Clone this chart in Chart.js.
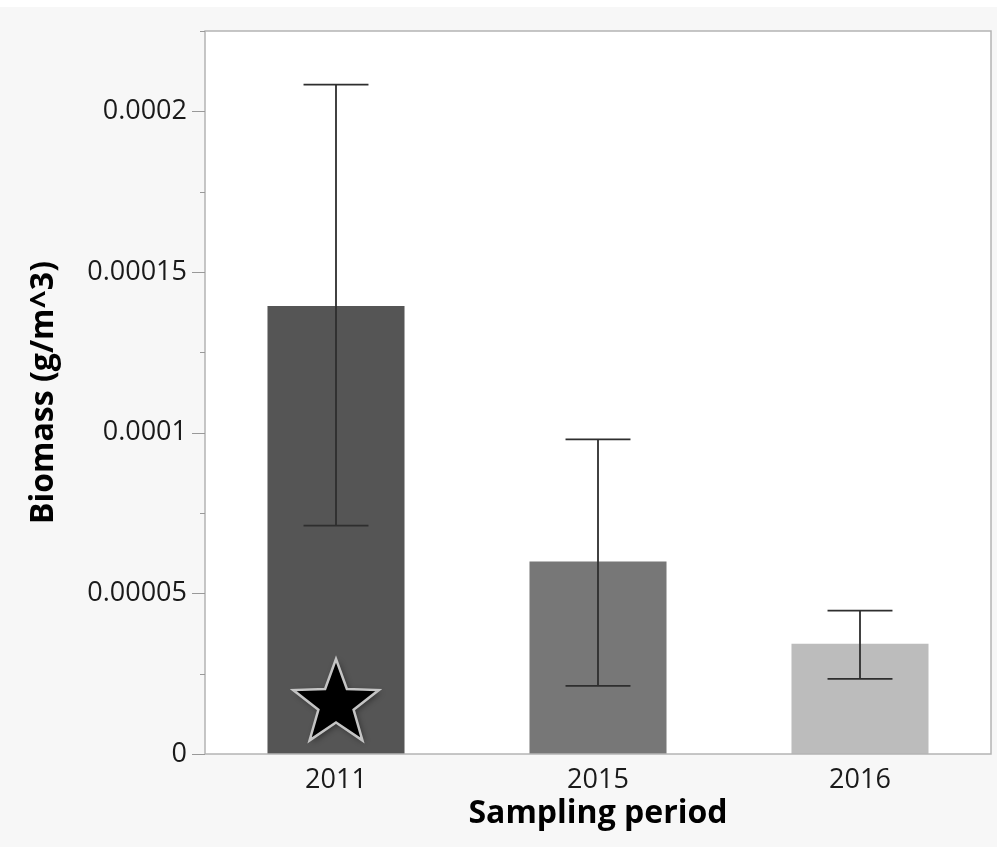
<!DOCTYPE html>
<html lang="en">
<head>
    <meta charset="UTF-8">
    <title>Biomass by sampling period</title>
    <script src="https://cdn.jsdelivr.net/npm/chart.js"></script>
    <style>
        body {
            margin: 0;
            padding: 0;
            background: #f7f7f7;
        }

        .chart-box {
            width: 997px;
            height: 847px;
        }
    </style>
</head>
<body>
    <div class="chart-box">
        <canvas id="myChart" width="997" height="847"></canvas>
    </div>

    <script>
        // dados
        var periods = ['2011', '2015', '2016'];
        var biomass = [0.0001394, 0.0000599, 0.0000343];
        var errUpper = [0.0002083, 0.0000979, 0.0000446];
        var errLower = [0.0000711, 0.0000212, 0.0000234];
        var barColors = ['#555555', '#777777', '#bcbcbc'];
        var starMark = [0.0000162, null, null];
        var yMajorValues = [0, 0.00005, 0.0001, 0.00015, 0.0002];
        var yMajorLabels = ['0', '0.00005', '0.0001', '0.00015', '0.0002'];

        var fontFamily = "'Open Sans', 'Noto Sans', sans-serif";

        function majorIndex(v) {
            for (var i = 0; i < yMajorValues.length; i++) {
                if (Math.abs(v - yMajorValues[i]) < 1e-10) return i;
            }
            return -1;
        }

        // sem padding extra dos rotulos, a area do grafico fica fixa
        function noPad(scale) {
            scale.paddingTop = 0;
            scale.paddingBottom = 0;
            scale.paddingLeft = 0;
            scale.paddingRight = 0;
        }

        // estrela de cinco pontas desenhada num canvas separado
        function makeStar() {
            var c = document.createElement('canvas');
            c.width = 110;
            c.height = 110;
            var g = c.getContext('2d');
            var R = 45, r = 18.5, cx = 55, cy = 57;
            g.beginPath();
            for (var i = 0; i < 10; i++) {
                var rad = i % 2 === 0 ? R : r;
                var a = -Math.PI / 2 + i * Math.PI / 5;
                var px = cx + rad * Math.cos(a);
                var py = cy + rad * Math.sin(a);
                if (i === 0) g.moveTo(px, py); else g.lineTo(px, py);
            }
            g.closePath();
            g.shadowColor = 'rgba(0,0,0,0.45)';
            g.shadowBlur = 6;
            g.shadowOffsetX = 2;
            g.shadowOffsetY = 2;
            g.fillStyle = '#000000';
            g.fill();
            g.shadowColor = 'transparent';
            g.lineWidth = 2.5;
            g.strokeStyle = '#c4c4c4';
            g.stroke();
            return c;
        }

        var frameAndTicks = {
            id: 'frameAndTicks',
            beforeDraw: function(chart) {
                var ctx = chart.ctx;
                var a = chart.chartArea;
                ctx.save();
                ctx.fillStyle = '#ffffff';
                ctx.fillRect(0, 0, chart.width, 7);
                ctx.fillStyle = '#f7f7f7';
                ctx.fillRect(0, 7, chart.width, chart.height - 7);
                ctx.fillStyle = '#ffffff';
                ctx.fillRect(a.left, a.top, a.right - a.left, a.bottom - a.top);
                ctx.restore();
            },
            afterDraw: function(chart) {
                var ctx = chart.ctx;
                var a = chart.chartArea;
                var y = chart.scales.y;
                ctx.save();
                ctx.strokeStyle = '#b4b4b4';
                ctx.lineWidth = 1.5;
                ctx.strokeRect(a.left, a.top, a.right - a.left, a.bottom - a.top);
                ctx.strokeStyle = '#999999';
                ctx.lineWidth = 1;
                y.ticks.forEach(function(t) {
                    var py = Math.round(y.getPixelForValue(t.value)) + 0.5;
                    var len = majorIndex(t.value) >= 0 ? 13 : 5;
                    ctx.beginPath();
                    ctx.moveTo(a.left - len, py);
                    ctx.lineTo(a.left, py);
                    ctx.stroke();
                });
                ctx.restore();
            }
        };

        var errorBars = {
            id: 'errorBars',
            afterDatasetsDraw: function(chart) {
                var ctx = chart.ctx;
                var y = chart.scales.y;
                var meta = chart.getDatasetMeta(0);
                ctx.save();
                ctx.strokeStyle = '#2e2e2e';
                ctx.lineWidth = 1.8;
                meta.data.forEach(function(bar, i) {
                    var x = bar.x;
                    var half = bar.width * 0.237;
                    var top = y.getPixelForValue(errUpper[i]);
                    var bot = y.getPixelForValue(errLower[i]);
                    ctx.beginPath();
                    ctx.moveTo(x, top);
                    ctx.lineTo(x, bot);
                    ctx.moveTo(x - half, top);
                    ctx.lineTo(x + half, top);
                    ctx.moveTo(x - half, bot);
                    ctx.lineTo(x + half, bot);
                    ctx.stroke();
                });
                ctx.restore();
            }
        };

        var ctx = document.getElementById('myChart').getContext('2d');
        var myChart = new Chart(ctx, {
            type: 'bar',
            data: {
                labels: periods,
                datasets: [{
                    type: 'bar',
                    data: biomass,
                    backgroundColor: barColors,
                    borderWidth: 0,
                    barPercentage: 0.523,
                    categoryPercentage: 1,
                    order: 2
                }, {
                    type: 'line',
                    data: starMark,
                    showLine: false,
                    pointStyle: makeStar(),
                    pointRadius: 45,
                    order: 1
                }]
            },
            options: {
                responsive: false,
                animation: false,
                layout: {
                    autoPadding: false,
                    padding: { top: 31, right: 6, left: 0, bottom: 0 }
                },
                plugins: {
                    legend: { display: false },
                    tooltip: { enabled: false }
                },
                scales: {
                    x: {
                        grid: { display: false },
                        border: { display: false },
                        ticks: {
                            color: '#1a1a1a',
                            padding: 2,
                            font: { family: fontFamily, size: 27 }
                        },
                        title: {
                            display: true,
                            text: 'Sampling period',
                            color: '#000000',
                            padding: { top: 0, bottom: 14 },
                            font: { family: fontFamily, size: 32, weight: 'bold' }
                        },
                        afterFit: function(scale) {
                            scale.height = 93;
                            noPad(scale);
                        }
                    },
                    y: {
                        min: 0,
                        max: 0.000225,
                        grid: { display: false, drawTicks: false },
                        border: { display: false },
                        ticks: {
                            stepSize: 0.000025,
                            autoSkip: false,
                            padding: 18,
                            color: '#1a1a1a',
                            font: { family: fontFamily, size: 27 },
                            callback: function(value) {
                                var i = majorIndex(value);
                                return i >= 0 ? yMajorLabels[i] : '';
                            }
                        },
                        title: {
                            display: true,
                            text: 'Biomass (g/m^3)',
                            color: '#000000',
                            padding: { top: 25, bottom: 0 },
                            font: { family: fontFamily, size: 32, weight: 'bold' }
                        },
                        afterFit: function(scale) {
                            scale.width = 205;
                            noPad(scale);
                        }
                    }
                }
            },
            plugins: [frameAndTicks, errorBars]
        });
    </script>
</body>
</html>
